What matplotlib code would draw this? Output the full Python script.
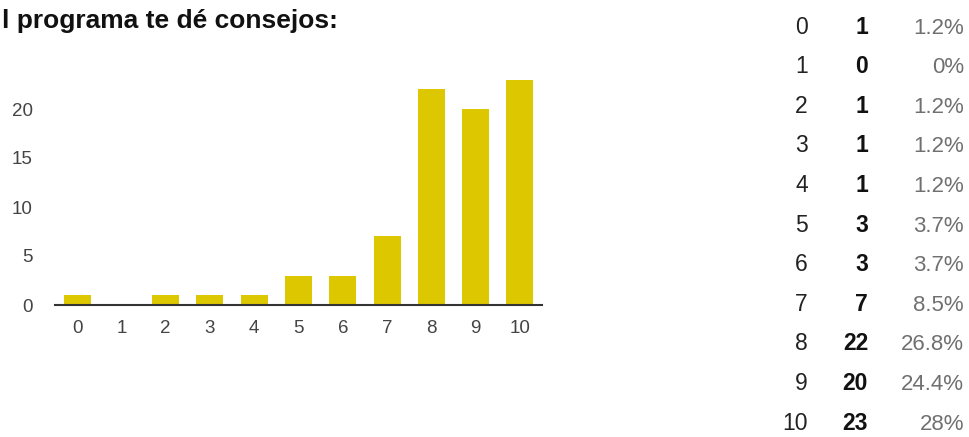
import matplotlib
matplotlib.use("Agg")
import matplotlib.pyplot as plt

# Survey answers: score given and number of respondents
scores = ["0", "1", "2", "3", "4", "5", "6", "7", "8", "9", "10"]
counts = [1, 0, 1, 1, 1, 3, 3, 7, 22, 20, 23]
percents = ["1.2%", "0%", "1.2%", "1.2%", "1.2%", "3.7%", "3.7%", "8.5%", "26.8%", "24.4%", "28%"]
title = "l programa te dé consejos:"

W, H = 969, 437
fig = plt.figure(figsize=(W / 100, H / 100), dpi=100)
fig.patch.set_facecolor("white")

plt.rcParams["font.family"] = ["Liberation Sans", "DejaVu Sans"]

# Bar chart area
left, right, bottom, top = 55, 542, 305, 60
ax = fig.add_axes([left / W, 1 - bottom / H, (right - left) / W, (bottom - top) / H])
x = list(range(len(scores)))
ax.bar(x, counts, width=0.61, color="#dcc700", zorder=2)
ax.set_xlim(-0.5, len(scores) - 0.5)
ax.set_ylim(0, 25)
ax.set_xticks(x)
ax.set_xticklabels(scores)
ax.set_yticks([0, 5, 10, 15, 20])
for s in ["top", "right", "left"]:
    ax.spines[s].set_visible(False)
ax.spines["bottom"].set_color("#333333")
ax.spines["bottom"].set_linewidth(1.5)
ax.spines["bottom"].set_zorder(3)
ax.tick_params(axis="both", length=0, labelsize=13.5, labelcolor="#444444")
ax.tick_params(axis="x", pad=11)
ax.tick_params(axis="y", pad=16)

# Title
fig.text(2 / W, 1 - 28 / H, title, fontsize=19, fontweight="bold",
         color="#111111", ha="left", va="baseline")

# Frequency table
for i, (s, c, p) in enumerate(zip(scores, counts, percents)):
    yb = 1 - (33.5 + 39.6 * i) / H
    fig.text(808 / W, yb, s, fontsize=16.5, color="#222222",
             ha="right", va="baseline")
    fig.text(868 / W, yb, str(c), fontsize=16.5, fontweight="bold",
             color="#111111", ha="right", va="baseline")
    fig.text(964 / W, yb, p, fontsize=16, color="#707070",
             ha="right", va="baseline")

fig.savefig("out.png", dpi=100, facecolor="white")
